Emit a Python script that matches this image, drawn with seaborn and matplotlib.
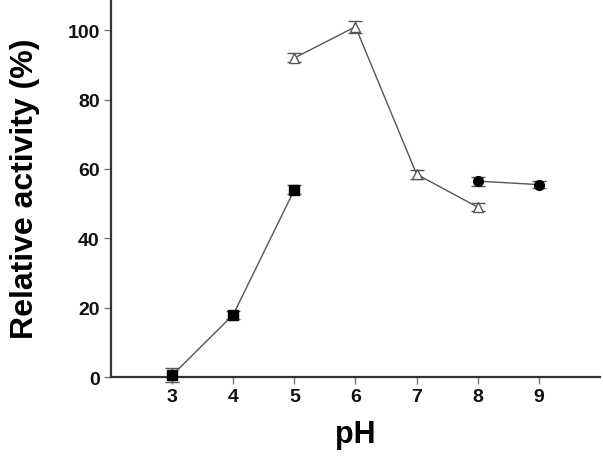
import matplotlib
matplotlib.use("Agg")
import matplotlib.pyplot as plt
import seaborn as sns
import pandas as pd

# data
ph_acid = [3, 4, 5]
act_acid = [0.5, 18.0, 54.0]
err_acid = [2.0, 1.2, 1.3]

ph_mid = [5, 6, 7, 8]
act_mid = [92.0, 101.0, 58.5, 49.0]
err_mid = [1.3, 1.8, 1.3, 1.2]

ph_alk = [8, 9]
act_alk = [56.5, 55.5]
err_alk = [1.3, 1.0]

sns.set_style("ticks")
plt.rcParams['font.family'] = ['Liberation Sans', 'DejaVu Sans']
plt.rcParams['font.weight'] = 'bold'
plt.rcParams['text.color'] = 'black'
plt.rcParams['axes.labelcolor'] = 'black'
plt.rcParams['xtick.labelcolor'] = '#111111'
plt.rcParams['ytick.labelcolor'] = '#111111'

fig = plt.figure(figsize=(6.03, 4.64), dpi=100)
ax = fig.add_axes([0.184, 0.185, 0.811, 0.815])

series = [
    (ph_acid, act_acid, err_acid, 's', 'black', 'black'),
    (ph_mid, act_mid, err_mid, '^', 'white', '#555555'),
    (ph_alk, act_alk, err_alk, 'o', 'black', 'black'),
]
for x, y, e, mk, fc, ec in series:
    df = pd.DataFrame({'pH': x, 'act': y})
    eb = ax.errorbar(x, y, yerr=e, fmt='none', ecolor='#555555',
                     elinewidth=1.0, capsize=5.3, capthick=1.0, zorder=2)
    for art in eb.get_children():
        art.set_clip_on(False)
    sns.lineplot(data=df, x='pH', y='act', ax=ax, color='#555555',
                 linewidth=1.0, marker=mk, markersize=7,
                 markerfacecolor=fc, markeredgecolor=ec,
                 markeredgewidth=1.0, zorder=3, clip_on=False)

ax.set_xlim(2, 10)
ax.set_ylim(0, 109)
ax.set_xticks([3, 4, 5, 6, 7, 8, 9])
ax.set_yticks([0, 20, 40, 60, 80, 100])
ax.tick_params(axis='both', labelsize=14, length=5, width=1.0,
               color='#777777', direction='out', pad=3)
for lab in ax.get_xticklabels() + ax.get_yticklabels():
    lab.set_fontweight('bold')

for side in ['top', 'right']:
    ax.spines[side].set_visible(False)
for side in ['left', 'bottom']:
    ax.spines[side].set_color('#333333')
    ax.spines[side].set_linewidth(1.6)

ax.set_xlabel('pH', fontsize=22, fontweight='bold', labelpad=10)
ax.set_ylabel('Relative activity (%)', fontsize=23, fontweight='bold',
              labelpad=20)

fig.savefig('out.png', dpi=100)
